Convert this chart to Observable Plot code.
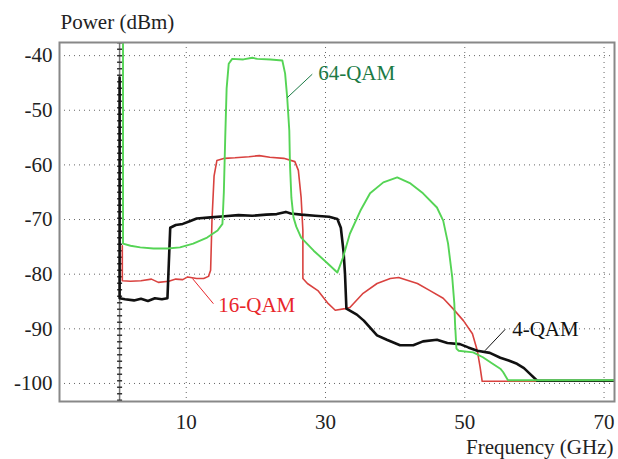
<!DOCTYPE html>
<html>
<head>
<meta charset="utf-8">
<script src="https://cdn.jsdelivr.net/npm/d3@7"></script>
<script src="https://cdn.jsdelivr.net/npm/@observablehq/plot@0.6"></script>
<style>
  html, body { margin: 0; padding: 0; background: #fff; }
  #chart svg, #chart svg text, #chart svg g { font-family: "Liberation Serif", "Times New Roman", serif !important; }
</style>
</head>
<body>
<div id="chart"></div>
<script>
// Frequency (GHz), Power (dBm)
const qam4 = [[0.43,-44],[0.43,-84.4],[1.2,-84.6],[2.5,-84.8],[3.5,-84.5],[4.5,-84.9],[5.5,-84.4],[6.5,-84.6],[7.3,-84.4],[7.5,-78],[7.7,-71.5],[8.5,-71],[9.5,-70.8],[10.5,-70.3],[11.5,-69.8],[13.5,-69.6],[15.5,-69.4],[17.5,-69.2],[19.5,-69.3],[21.5,-69.1],[23,-69.0],[24.3,-68.6],[25,-68.9],[26.5,-69.1],[28.5,-69.3],[30.5,-69.5],[31.7,-69.9],[32.2,-71.5],[32.6,-76],[32.8,-80],[33,-86.3],[34.5,-87.4],[35.5,-88.5],[37.4,-91.2],[38.8,-92],[40.7,-93],[42.6,-93],[44,-92.3],[46,-92],[47.5,-92.6],[49.3,-92.8],[50.5,-93.4],[51.8,-94],[53.6,-94.4],[55.1,-95.3],[56.3,-95.8],[57.5,-96.4],[58.5,-97.2],[59.4,-98.3],[60.4,-99.5],[65,-99.5],[71.5,-99.5]];
const qam16 = [[0.82,-74.8],[0.82,-81.2],[2,-81.3],[3.5,-81.2],[5,-80.9],[6,-81.5],[7.5,-81.3],[8.5,-80.9],[9.5,-81.0],[10.2,-80.5],[11.5,-80.8],[12.5,-80.8],[13.2,-80.4],[13.5,-79.3],[13.7,-70],[14.0,-62],[14.4,-59.2],[15.5,-58.8],[17,-58.7],[19,-58.5],[20.5,-58.3],[22,-58.6],[24,-58.8],[25.6,-59.4],[26.1,-61],[26.5,-66],[26.75,-72],[26.75,-80.8],[27.4,-81.7],[28.9,-83],[30.4,-85.4],[31.4,-86.6],[32.8,-86.3],[33.5,-86.1],[35.4,-83.5],[37.4,-81.7],[39.3,-80.8],[40.5,-80.6],[43.2,-81.7],[45,-83],[46.9,-84.4],[48.3,-86.3],[49.8,-88.5],[51.1,-90.9],[51.8,-94],[52.2,-97],[52.5,-99.6],[71.5,-99.6]];
const qam64 = [[0.92,-37],[0.92,-74.4],[2,-74.8],[3.4,-75.1],[5.3,-75.3],[7.3,-75.3],[9.1,-75.1],[11,-74.4],[13,-73.3],[14.5,-72],[15.2,-70.8],[15.4,-65],[15.6,-55],[15.8,-46],[16.1,-41.5],[16.6,-40.6],[18.2,-40.7],[19.5,-40.4],[20.2,-40.6],[22.1,-40.7],[23.8,-40.9],[24.2,-43.3],[24.5,-47.7],[24.8,-53.7],[24.9,-60],[25.1,-66],[25.4,-69.6],[25.8,-71.3],[26.5,-73.3],[28.3,-75.7],[30.2,-77.9],[31.7,-79.7],[32.5,-77],[33.5,-72.6],[35,-68.4],[36.4,-65.2],[38.3,-63.2],[40.3,-62.3],[42.2,-63.4],[44,-65.2],[46,-67.8],[46.9,-70.2],[47.6,-74.4],[48.2,-80.6],[48.5,-85.4],[48.6,-89],[48.8,-93.6],[49.1,-94],[51.2,-94.3],[52.6,-95.2],[54,-96.4],[55.1,-97.3],[55.5,-97.9],[56.2,-99.4],[71.5,-99.4]];

const markerX = [0.43];
const xTicks = [10, 30, 50, 70];
const yTicks = [-40, -50, -60, -70, -80, -90, -100];

const labels = [
  {text: "64-QAM", x: 28.95, y: -43.3, x1: 28.1, y1: -43.4, x2: 24.5, y2: -47.7, color: "#1b7a45"},
  {text: "16-QAM", x: 14.6, y: -85.6, x1: 13.9, y1: -85.4, x2: 10.9, y2: -80.8, color: "#e8262b"},
  {text: "4-QAM", x: 56.8, y: -90.1, x1: 55.8, y1: -90.1, x2: 52.9, y2: -94, color: "#111111"}
];

const toRows = (arr) => arr.map(([f, p]) => ({f, p}));
const serif = "Liberation Serif";

const chart = Plot.plot({
  width: 618,
  height: 459,
  marginLeft: 59,
  marginRight: 4,
  marginTop: 42,
  marginBottom: 58,
  style: {fontSize: "21px", background: "#fff", color: "#222", fontFamily: serif},
  x: {domain: [-8.2, 71.5], ticks: xTicks},
  y: {domain: [-103.3, -37.6], ticks: yTicks},
  marks: [
    Plot.gridX(xTicks, {stroke: "#666", strokeOpacity: 1, strokeDasharray: "1,4"}),
    Plot.gridY(yTicks, {stroke: "#666", strokeOpacity: 1, strokeDasharray: "1,4"}),
    Plot.axisX(xTicks, {tickSize: 0, tickPadding: 13, label: null, fontSize: 21, fontFamily: serif, fontVariant: "normal"}),
    Plot.axisY(yTicks, {tickSize: 0, tickPadding: 7, label: null, tickFormat: d => String(d), fontSize: 21, fontFamily: serif, fontVariant: "normal"}),
    Plot.ruleX(markerX, {stroke: "#777", strokeWidth: 1.5}),
    Plot.ruleX(markerX, {stroke: "#333", strokeWidth: 5, strokeDasharray: "1.5,5"}),
    Plot.line(toRows(qam16), {x: "f", y: "p", stroke: "#d9423f", strokeWidth: 1.6, clip: true}),
    Plot.line(toRows(qam4), {x: "f", y: "p", stroke: "#111", strokeWidth: 2.6, clip: true}),
    Plot.line(toRows(qam64), {x: "f", y: "p", stroke: "#55d455", strokeWidth: 1.9, clip: true}),
    Plot.link(labels, {x1: "x1", y1: "y1", x2: "x2", y2: "y2", stroke: "color", strokeWidth: 1}),
    Plot.text(labels, {x: "x", y: "y", text: "text", fill: "color", textAnchor: "start", lineAnchor: "middle", fontSize: 21, fontFamily: serif}),
    Plot.frame({stroke: "#888", strokeWidth: 2}),
    Plot.text(["Power (dBm)"], {frameAnchor: "top-left", dx: 1, dy: -14, textAnchor: "start", lineAnchor: "bottom", fontSize: 21, fill: "#222", fontFamily: serif}),
    Plot.text(["Frequency (GHz)"], {frameAnchor: "bottom-right", dx: -1, dy: 52, textAnchor: "end", lineAnchor: "bottom", fontSize: 21, fill: "#222", fontFamily: serif})
  ]
});
document.getElementById("chart").appendChild(chart);
</script>
</body>
</html>
